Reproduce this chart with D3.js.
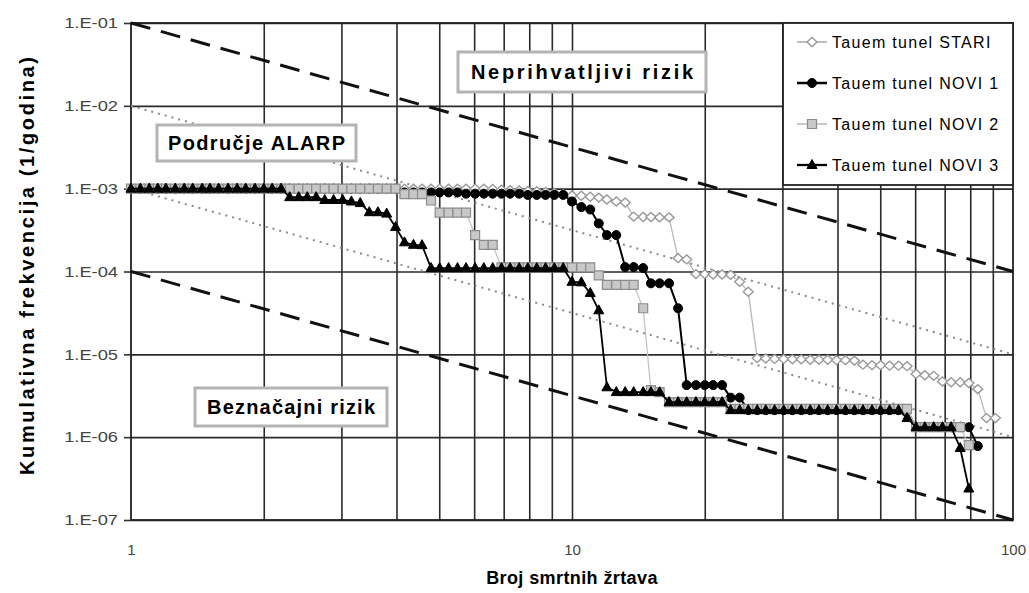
<!DOCTYPE html>
<html>
<head>
<meta charset="utf-8">
<script src="https://cdn.jsdelivr.net/npm/d3@7/dist/d3.min.js"></script>
<style>
  body { margin: 0; background: #fff; }
  svg text { font-family: "Liberation Sans", Arial, sans-serif; }
</style>
</head>
<body>
<div id="chart"></div>
<script>
// broj smrtnih zrtava (N) - zajednicka os za sve serije
const deaths = [
  1.00, 1.05, 1.10, 1.15, 1.20, 1.26, 1.32, 1.38, 1.45, 1.51,
  1.58, 1.66, 1.74, 1.82, 1.91, 2.00, 2.09, 2.19, 2.29, 2.40,
  2.51, 2.63, 2.75, 2.88, 3.02, 3.16, 3.31, 3.47, 3.63, 3.80,
  3.98, 4.17, 4.37, 4.57, 4.79, 5.01, 5.25, 5.50, 5.75, 6.03,
  6.31, 6.61, 6.92, 7.24, 7.59, 7.94, 8.32, 8.71, 9.12, 9.55,
  10.0, 10.5, 11.0, 11.5, 12.0, 12.6, 13.2, 13.8, 14.5, 15.1,
  15.8, 16.6, 17.4, 18.2, 19.1, 20.0, 20.9, 21.9, 22.9, 24.0,
  25.1, 26.3, 27.5, 28.8, 30.2, 31.6, 33.1, 34.7, 36.3, 38.0,
  39.8, 41.7, 43.7, 45.7, 47.9, 50.1, 52.5, 55.0, 57.5, 60.3,
  63.1, 66.1, 69.2, 72.4, 75.9, 79.4, 83.2, 87.1, 91.2
];

// kumulativna frekvencija, u jedinicama 1e-6 / godina
const stari = [
  1000, 1000, 1000, 1000, 1000, 1000, 1000, 1000, 1000, 1000,
  1000, 1000, 1000, 1000, 1000, 1000, 1000, 1000, 1000, 1000,
  1000, 1000, 1000, 1000, 1000, 1000, 1000, 1000, 1000, 1000,
  1000, 1000, 1000, 1000, 1000, 1000, 1000, 1000, 1000, 1000,
  1000, 990, 970, 960, 950, 940, 930, 910, 890, 860,
  830, 820, 800, 780, 740, 700, 680, 460, 455, 455,
  450, 450, 145, 140, 93, 93, 92, 92, 91, 75,
  57, 9.0, 8.9, 8.8, 8.8, 8.7, 8.7, 8.6, 8.6, 8.6,
  8.5, 8.5, 8.4, 7.5, 7.4, 7.4, 7.3, 7.3, 7.2, 5.8,
  5.6, 5.5, 4.7, 4.6, 4.6, 4.5, 3.8, 1.7, 1.7
];
const novi1 = [
  1000, 1000, 1000, 1000, 1000, 1000, 1000, 1000, 1000, 1000,
  1000, 1000, 1000, 1000, 1000, 1000, 1000, 1000, 1000, 1000,
  1000, 1000, 1000, 1000, 1000, 1000, 1000, 1000, 1000, 1000,
  1000, 900, 900, 900, 900, 900, 900, 900, 870, 870,
  870, 870, 870, 870, 870, 840, 840, 840, 840, 840,
  700, 600, 560, 380, 275, 275, 113, 113, 110, 72,
  72, 72, 36, 4.25, 4.25, 4.25, 4.25, 4.25, 3.0, 3.0,
  2.12, 2.12, 2.12, 2.12, 2.12, 2.12, 2.12, 2.12, 2.12, 2.12,
  2.12, 2.12, 2.12, 2.12, 2.12, 2.12, 2.12, 2.12, 2.12, 1.32,
  1.32, 1.32, 1.32, 1.32, 1.32, 1.32, 0.78
];
const novi2 = [
  1000, 1000, 1000, 1000, 1000, 1000, 1000, 1000, 1000, 1000,
  1000, 1000, 1000, 1000, 1000, 1000, 1000, 1000, 1000, 1000,
  1000, 1000, 1000, 1000, 1000, 1000, 1000, 1000, 1000, 1000,
  1000, 860, 860, 860, 720, 515, 515, 515, 515, 275,
  210, 210, 112, 112, 112, 112, 112, 112, 112, 112,
  112, 112, 112, 90, 69, 69, 69, 69, 36, 3.7,
  3.5, 2.65, 2.65, 2.65, 2.65, 2.65, 2.65, 2.65, 2.2, 2.2,
  2.2, 2.2, 2.2, 2.2, 2.2, 2.2, 2.2, 2.2, 2.2, 2.2,
  2.2, 2.2, 2.2, 2.2, 2.2, 2.2, 2.2, 2.2, 2.2, 1.32,
  1.32, 1.32, 1.32, 1.32, 1.32, 0.8
];
const novi3 = [
  1000, 1000, 1000, 1000, 1000, 1000, 1000, 1000, 1000, 1000,
  1000, 1000, 1000, 1000, 1000, 1000, 1000, 1000, 790, 790,
  790, 790, 730, 730, 730, 700, 670, 520, 520, 500,
  344, 225, 210, 208, 110, 110, 110, 110, 110, 110,
  110, 110, 110, 110, 110, 110, 110, 110, 110, 110,
  75, 74, 55, 34, 4.0, 3.5, 3.5, 3.5, 3.5, 3.5,
  3.5, 2.65, 2.65, 2.65, 2.65, 2.65, 2.65, 2.65, 2.12, 2.12,
  2.12, 2.12, 2.12, 2.12, 2.12, 2.12, 2.12, 2.12, 2.12, 2.12,
  2.12, 2.12, 2.12, 2.12, 2.12, 2.12, 2.12, 2.12, 1.7, 1.32,
  1.32, 1.32, 1.32, 1.32, 0.74, 0.24
];

const seriesNames = ['Tauem tunel  STARI', 'Tauem tunel  NOVI 1', 'Tauem tunel  NOVI 2', 'Tauem tunel  NOVI 3'];

// granice prihvatljivosti rizika (N, F)
const limitN = [1, 100];
const upperLimit = [1e-1, 1e-4];
const lowerLimit = [1e-4, 1e-7];
const alarpHigh = [1e-2, 1e-5];
const alarpLow = [1e-3, 1e-6];

const xTicks = [1, 10, 100];
const xGrid = [2, 3, 4, 5, 6, 7, 8, 9, 10, 20, 30, 40, 50, 60, 70, 80, 90];
const yTicks = [1e-7, 1e-6, 1e-5, 1e-4, 1e-3, 1e-2, 1e-1];

const { scaleLog, axisLeft, axisBottom, line, select } = d3;

const W = 1029, H = 593;
const margin = { left: 131, right: 1013, top: 23, bottom: 520 }; // rubovi podrucja crtanja

const svg = select('#chart').append('svg')
  .attr('width', W)
  .attr('height', H);

const x = scaleLog().domain([1, 100]).range([margin.left, margin.right]);
const y = scaleLog().domain([1e-7, 1e-1]).range([margin.bottom, margin.top]);
const plotW = margin.right - margin.left;
const plotH = margin.bottom - margin.top;

// mreza
svg.append('g')
  .attr('transform', `translate(0,${margin.bottom})`)
  .call(axisBottom(x).tickValues(xGrid).tickSize(-plotH).tickFormat(''))
  .call(g => g.select('.domain').remove())
  .selectAll('.tick line').attr('stroke', '#2a2a2a').attr('stroke-width', 1.6);

svg.append('g')
  .attr('transform', `translate(${margin.left},0)`)
  .call(axisLeft(y).tickValues(yTicks).tickSize(-plotW).tickFormat(''))
  .call(g => g.select('.domain').remove())
  .selectAll('.tick line').attr('stroke', '#2a2a2a').attr('stroke-width', 1.6);

// y os - oznake 1.E-0x
const yFmt = d => '1.E-' + String(-Math.round(Math.log10(d))).padStart(2, '0');
const yAxisG = svg.append('g')
  .attr('transform', `translate(${margin.left},0)`)
  .call(axisLeft(y).tickValues(yTicks).tickSize(7).tickPadding(6).tickFormat(yFmt));
yAxisG.select('.domain').remove();
yAxisG.selectAll('.tick line').attr('stroke', '#333').attr('stroke-width', 1.6);
yAxisG.selectAll('.tick text')
  .attr('fill', '#444')
  .style('font-size', '15px')
  .attr('transform', 'scale(1.22,1)')
  .attr('x', -13 / 1.22)
  .attr('dx', 0);

// x os - samo 1, 10, 100
const xAxisG = svg.append('g')
  .attr('transform', `translate(0,${margin.bottom})`)
  .call(axisBottom(x).tickValues(xTicks).tickSize(0).tickPadding(24).tickFormat(d3.format('d')));
xAxisG.select('.domain').remove();
xAxisG.selectAll('.tick text').attr('fill', '#444').style('font-size', '15px');

// okvir
svg.append('rect')
  .attr('x', margin.left).attr('y', margin.top)
  .attr('width', plotW).attr('height', plotH)
  .attr('fill', 'none').attr('stroke', '#222').attr('stroke-width', 1.8);

// granicne linije
const limLine = line().x(d => x(d[0])).y(d => y(d[1]));
const lims = [
  { f: upperLimit, dash: '20,11', w: 3, c: '#111' },
  { f: lowerLimit, dash: '20,11', w: 3, c: '#111' },
  { f: alarpHigh, dash: '2,5', w: 2, c: '#8a8a8a' },
  { f: alarpLow, dash: '2,5', w: 2, c: '#8a8a8a' }
];
lims.forEach(l => {
  svg.append('path')
    .attr('d', limLine(limitN.map((n, i) => [n, l.f[i]])))
    .attr('fill', 'none')
    .attr('stroke', l.c)
    .attr('stroke-width', l.w)
    .attr('stroke-dasharray', l.dash);
});

// natpisi podrucja
const boxes = [
  { t: 'Neprihvatljivi rizik', x: 458, y: 52, w: 248, h: 40, tw: 222 },
  { t: 'Područje ALARP', x: 157, y: 125, w: 199, h: 36, tw: 177 },
  { t: 'Beznačajni rizik', x: 195, y: 388, w: 192, h: 38, tw: 168 }
];
boxes.forEach(b => {
  svg.append('rect')
    .attr('x', b.x).attr('y', b.y).attr('width', b.w).attr('height', b.h)
    .attr('fill', '#fff').attr('stroke', '#b4b4b4').attr('stroke-width', 3);
  svg.append('text')
    .attr('x', b.x + b.w / 2).attr('y', b.y + b.h / 2 + 7)
    .attr('text-anchor', 'middle')
    .attr('textLength', b.tw)
    .attr('lengthAdjust', 'spacing')
    .style('font-size', '20px').style('font-weight', 'bold')
    .text(b.t);
});

// oblici markera
const shapes = {
  diamond: 'M-5,0L0,-4.5L5,0L0,4.5Z',
  circle: 'M-4.5,0A4.5,4.5 0 1,0 4.5,0A4.5,4.5 0 1,0 -4.5,0Z',
  square: 'M-4.5,-4.5H4.5V4.5H-4.5Z',
  triangle: 'M0,-5.5L5,3.5H-5Z'
};
const styles = [
  { data: stari, shape: 'diamond', line: '#b8b8b8', lw: 1.3, fill: '#fff', stroke: '#999', sw: 1.4 },
  { data: novi1, shape: 'circle', line: '#000', lw: 2, fill: '#000', stroke: '#000', sw: 1 },
  { data: novi2, shape: 'square', line: '#c4c4c4', lw: 1.3, fill: '#c8c8c8', stroke: '#8c8c8c', sw: 1.2 },
  { data: novi3, shape: 'triangle', line: '#000', lw: 1.8, fill: '#000', stroke: '#000', sw: 1 }
];

const serLine = line().x(d => x(d.n)).y(d => y(d.f));
styles.forEach(s => {
  const pts = s.data.map((v, i) => ({ n: deaths[i], f: v * 1e-6 }));
  svg.append('path')
    .attr('d', serLine(pts))
    .attr('fill', 'none')
    .attr('stroke', s.line)
    .attr('stroke-width', s.lw);
  svg.append('g').selectAll('path').data(pts)
    .enter().append('path')
    .attr('d', shapes[s.shape])
    .attr('transform', d => `translate(${x(d.n)},${y(d.f)})`)
    .attr('fill', s.fill)
    .attr('stroke', s.stroke)
    .attr('stroke-width', s.sw);
});

// legenda
const lg = svg.append('g');
lg.append('rect')
  .attr('x', 783).attr('y', margin.top).attr('width', margin.right - 783).attr('height', 162)
  .attr('fill', '#fff').attr('stroke', '#222').attr('stroke-width', 1.8);
styles.forEach((s, i) => {
  const ly = 42 + i * 41;
  lg.append('line')
    .attr('x1', 797).attr('x2', 827).attr('y1', ly).attr('y2', ly)
    .attr('stroke', s.line).attr('stroke-width', s.lw + 0.5);
  lg.append('path')
    .attr('d', shapes[s.shape])
    .attr('transform', `translate(812,${ly})`)
    .attr('fill', s.fill).attr('stroke', s.stroke).attr('stroke-width', s.sw);
  lg.append('text')
    .attr('x', 832).attr('y', ly + 6)
    .style('font-size', '16px')
    .style('letter-spacing', '1.3px')
    .text(seriesNames[i]);
});

// naslovi osi
svg.append('text')
  .attr('transform', 'translate(34,266) rotate(-90)')
  .attr('text-anchor', 'middle')
  .attr('textLength', 418)
  .attr('lengthAdjust', 'spacing')
  .style('font-size', '20px').style('font-weight', 'bold')
  .text('Kumulativna  frekvencija  (1/godina)');

svg.append('text')
  .attr('x', 572).attr('y', 584)
  .attr('text-anchor', 'middle')
  .style('font-size', '18px').style('font-weight', 'bold')
  .style('letter-spacing', '0.4px')
  .text('Broj  smrtnih  žrtava');
</script>
</body>
</html>
